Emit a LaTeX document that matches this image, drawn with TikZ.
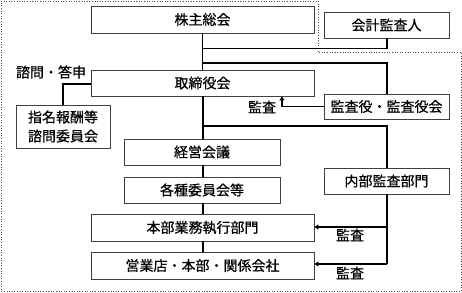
\documentclass[tikz,border=0pt]{standalone}
\usepackage{fontspec}
\setmainfont[FakeBold=0.6]{Noto Sans CJK JP}
\usetikzlibrary{arrows.meta}
\begin{document}
\begin{tikzpicture}[x=1pt,y=-1pt,
  box/.style={draw=black!75,line width=0.8pt,fill=white,inner sep=0pt,font=\fontsize{14}{19}\selectfont},
  conn/.style={draw=black,line width=1.3pt},
  arr/.style={conn,-{Triangle[width=5pt,length=4pt]}},
  lbl/.style={font=\fontsize{14}{19}\selectfont,inner sep=0pt}]
\useasboundingbox (0,0) rectangle (462,292);
\draw[black!70,line width=0.6pt,dotted] (1,1) -- (318,1) -- (318,52) -- (461,52) -- (461,291) -- (1,291) -- cycle;
% boxes
\node[box,minimum width=223pt,minimum height=27pt] (kabu) at (202.5,19.5) {株主総会};
\node[box,minimum width=125pt,minimum height=26pt] (kaikei) at (386.5,25) {会計監査人};
\node[box,minimum width=223pt,minimum height=26pt] (tori) at (202.5,83) {取締役会};
\node[box,minimum width=94pt,minimum height=43pt,align=center] (shimei) at (63,126.5) {指名報酬等\\諮問委員会};
\node[box,minimum width=125pt,minimum height=25pt] (kansayaku) at (386.5,106.5) {監査役・監査役会};
\node[box,minimum width=156pt,minimum height=26pt] (keiei) at (202,152) {経営会議};
\node[box,minimum width=156pt,minimum height=26pt] (kakushu) at (202,190) {各種委員会等};
\node[box,minimum width=223pt,minimum height=27pt] (honbu) at (202.5,227.5) {本部業務執行部門};
\node[box,minimum width=223pt,minimum height=27pt] (eigyo) at (202.5,265.5) {営業店・本部・関係会社};
\node[box,minimum width=125pt,minimum height=26pt] (naibu) at (386.5,181) {内部監査部門};
% coordinates
\coordinate (j1) at (203,48.5);
\coordinate (j2) at (203,63);
\coordinate (j3) at (203,126);
\coordinate (k1) at (387,48.5);
\coordinate (k2) at (387,63);
\coordinate (k3) at (387,126);
\coordinate (a1) at (282,106.5);
\coordinate (s1) at (63,84);
\coordinate (n1) at (387,227);
\coordinate (n2) at (387,264);
% connectors
\draw[conn] (kabu.south) -- (tori.north);
\draw[conn] (kaikei.south -| k1) -- (k1) -- (j1);
\draw[conn] (j2) -- (k2) -- (kansayaku.north -| k2);
\draw[arr] (kansayaku.west) -- (a1) -- (a1 |- tori.south);
\draw[conn] (tori.west |- s1) -- (s1) -- (shimei.north);
\draw[conn] (tori.south -| j3) -- (keiei.north -| j3);
\draw[conn] (j3) -- (k3) -- (naibu.north -| k3);
\draw[conn] (keiei.south -| j3) -- (kakushu.north -| j3);
\draw[conn] (kakushu.south -| j3) -- (honbu.north -| j3);
\draw[conn] (honbu.south -| j3) -- (eigyo.north -| j3);
\draw[conn] (naibu.south -| n1) -- (n2);
\draw[arr] (n1) -- (honbu.east |- n1);
\draw[arr] (n2) -- (eigyo.east |- n2);
% labels
\node[lbl] (l1) at (51,72) {諮問・答申};
\node[lbl] (l2) at (262,107) {監査};
\node[lbl] (l3) at (350,235) {監査};
\node[lbl] (l4) at (350,273) {監査};
\end{tikzpicture}
\end{document}
